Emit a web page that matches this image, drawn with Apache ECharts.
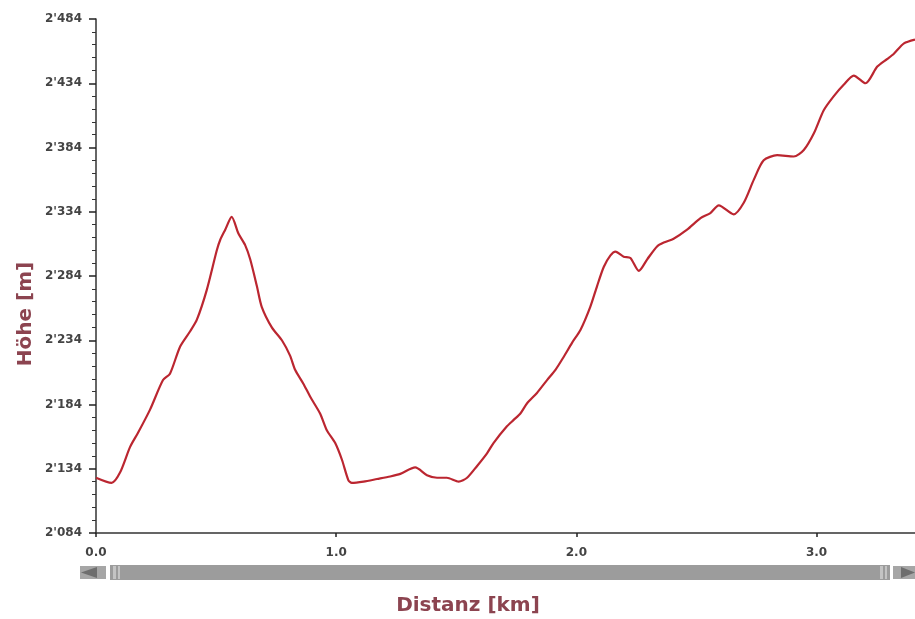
<!DOCTYPE html>
<html>
<head>
<meta charset="utf-8">
<script src="https://cdn.jsdelivr.net/npm/echarts@6/dist/echarts.min.js"></script>
<style>
html,body{margin:0;padding:0;background:#fff;}
#chart{width:915px;height:619px;}
</style>
</head>
<body>
<div id="chart"></div>
<script>
// Distance along route (km)
var distances = [
  0.00,0.065,0.100,0.142,0.175,0.225,0.279,0.308,0.350,0.392,
  0.420,0.461,0.503,0.517,0.538,0.565,0.593,0.621,0.642,0.670,
  0.690,0.732,0.774,0.808,0.829,0.864,0.892,0.933,0.961,0.996,
  1.024,1.051,1.065,1.114,1.170,1.225,1.267,1.329,1.378,1.420,
  1.461,1.510,1.545,1.586,1.628,1.655,1.711,1.739,1.767,1.795,
  1.836,1.878,1.913,1.947,1.982,2.017,2.058,2.086,2.114,2.142,
  2.163,2.197,2.225,2.260,2.295,2.336,2.364,2.405,2.461,2.517,
  2.558,2.593,2.655,2.697,2.739,2.780,2.836,2.905,2.947,2.989,
  3.030,3.072,3.114,3.155,3.204,3.253,3.295,3.322,3.364,3.410
];
// Elevation (m)
var elevations = [
  2127,2123,2131,2151,2162,2180,2203,2208,2229,2241,
  2250,2273,2304,2312,2320,2330,2317,2308,2297,2276,
  2260,2244,2234,2222,2211,2200,2190,2177,2164,2154,
  2141,2125,2123,2124,2126,2128,2130,2135,2129,2127,
  2127,2124,2127,2136,2146,2154,2167,2172,2177,2185,
  2193,2203,2211,2221,2232,2242,2260,2276,2291,2300,
  2303,2299,2298,2288,2297,2307,2310,2313,2320,2329,
  2333,2339,2332,2341,2359,2374,2378,2377,2382,2395,
  2413,2424,2433,2440,2434,2447,2453,2457,2465,2468
];
var yTicks = [2084,2134,2184,2234,2284,2334,2384,2434,2484];
var xTicks = [0,1,2,3];
var xMax = 3.41;
var yTitle = 'Höhe [m]';
var xTitle = 'Distanz [km]';

var seriesData = distances.map(function(d,i){return [d, elevations[i]];});

function fmtThousands(v){
  return String(v).replace(/\B(?=(\d{3})+(?!\d))/g, "'");
}

var chart = echarts.init(document.getElementById('chart'), null, {renderer:'canvas'});
var labelFont = {fontFamily:'DejaVu Sans', fontWeight:'bold', fontSize:12, color:'#444'};
var titleColor = '#8c4450';

chart.setOption({
  animation:false,
  backgroundColor:'#ffffff',
  grid:{left:96, right:0, top:19, bottom:86, containLabel:false},
  xAxis:{
    type:'value', min:0, max:xMax, interval:1,
    axisLine:{show:true, onZero:false, lineStyle:{color:'#333', width:1.5}},
    axisTick:{show:true, length:4, lineStyle:{color:'#222', width:1.5}},
    splitLine:{show:false},
    axisLabel:Object.assign({margin:14, showMaxLabel:false, formatter:function(v){
      return xTicks.indexOf(v) >= 0 ? v.toFixed(1) : '';
    }}, labelFont)
  },
  yAxis:{
    type:'value', min:yTicks[0], max:yTicks[yTicks.length-1], interval:50,
    axisLine:{show:true, lineStyle:{color:'#333', width:1.5}},
    axisTick:{show:true, length:7, lineStyle:{color:'#222', width:1.5}},
    minorTick:{show:true, splitNumber:5, length:4, lineStyle:{color:'#333', width:1}},
    splitLine:{show:false},
    axisLabel:Object.assign({margin:14, formatter:function(v){return fmtThousands(v);}}, labelFont)
  },
  series:[{
    type:'line',
    data:seriesData,
    showSymbol:false,
    smooth:0.25,
    lineStyle:{color:'#bb2630', width:2.2},
    clip:false
  }],
  graphic:[
    {type:'text', x:26, y:314, rotation:Math.PI/2,
     style:{text:yTitle, align:'center', verticalAlign:'middle', font:'bold 20px "DejaVu Sans"', fill:titleColor}},
    {type:'text', x:468, y:606,
     style:{text:xTitle, align:'center', verticalAlign:'middle', font:'bold 20px "DejaVu Sans"', fill:titleColor}},
    // scrollbar decoration
    {type:'rect', shape:{x:80, y:566, width:26, height:13}, style:{fill:'#a6a6a6'}},
    {type:'polygon', shape:{points:[[81,572.5],[97,567],[97,578]]}, style:{fill:'#6e6e6e'}},
    {type:'rect', shape:{x:110, y:565, width:780, height:15}, style:{fill:'#9c9c9c'}},
    {type:'rect', shape:{x:113, y:566, width:3, height:13}, style:{fill:'#c4c4c4'}},
    {type:'rect', shape:{x:118, y:566, width:2, height:13}, style:{fill:'#c4c4c4'}},
    {type:'rect', shape:{x:880, y:566, width:3, height:13}, style:{fill:'#c4c4c4'}},
    {type:'rect', shape:{x:885, y:566, width:2, height:13}, style:{fill:'#c4c4c4'}},
    {type:'rect', shape:{x:893, y:566, width:22, height:13}, style:{fill:'#a6a6a6'}},
    {type:'polygon', shape:{points:[[915,572.5],[901,567],[901,578]]}, style:{fill:'#6e6e6e'}}
  ]
});
</script>
</body>
</html>
